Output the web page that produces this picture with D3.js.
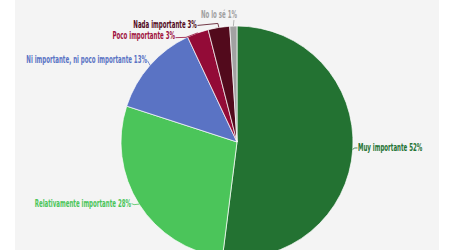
<!DOCTYPE html>
<html>
<head>
<meta charset="utf-8">
<script src="https://cdn.jsdelivr.net/npm/d3@7"></script>
<style>
  html, body { margin: 0; padding: 0; background: #ffffff; }
  svg { display: block; }
  text { font-family: "Liberation Sans Narrow", "DejaVu Sans Condensed", sans-serif; font-weight: bold; }
</style>
</head>
<body>
<script>
// ---- data ----
const categories = ["Muy importante", "Relativamente importante", "Ni importante, ni poco importante", "Poco importante", "Nada importante", "No lo sé"];
const values = [52, 28, 13, 3, 3, 1];
const valueLabels = ["52%", "28%", "13%", "3%", "3%", "1%"];
const colors = ["#237232", "#4bc55a", "#5a73c4", "#930b37", "#520a1c", "#a2a2a2"];
const labelColors = ["#237232", "#4bc55a", "#5a73c4", "#a0123e", "#520a1c", "#a0a0a0"];

// ---- annotation placement, relative to each slice's outer mid point ----
// [label dx, label dy, elbow dx, elbow dy, leader-end dx, leader-end dy]
const labelNudge = [
  [5.2, -2.3, 2, -1.3, 4.7, -1.3],
  [-8, -1, -5, 0.5, -7.5, -0.5],
  [-3, -6, -1, -2, -2.5, -4.5],
  [-22.7, 3, -11.7, 4.5, -22.2, 4.8],
  [-22, -3.2, -1, -4, -21.4, -2],
  [3.6, -11.5, 0.3, -3, 0.6, -6]
];

const W = 450, H = 250;
const cx = 237, cy = 142, R = 116;
const fontSize = 10, squeeze = 0.61;

const svg = d3.select("body").append("svg").attr("width", W).attr("height", H);
svg.append("rect").attr("x", 15).attr("y", 0).attr("width", 424).attr("height", H).attr("fill", "#f4f4f4");

const pie = d3.pie().sort(null).value(d => d)(values);
const arc = d3.arc().innerRadius(0).outerRadius(R);

const g = svg.append("g").attr("transform", `translate(${cx},${cy})`);
g.selectAll("path.slice").data(pie).join("path")
  .attr("class", "slice")
  .attr("d", arc)
  .attr("fill", (d, i) => colors[i])
  .attr("stroke", "#ffffff")
  .attr("stroke-width", 0.7);

pie.forEach((d, i) => {
  const a = (d.startAngle + d.endAngle) / 2;
  const px = Math.sin(a) * R, py = -Math.cos(a) * R;
  const n = labelNudge[i];
  const right = px > 0;
  g.append("path")
    .attr("d", d3.line()([[px, py], [px + n[2], py + n[3]], [px + n[4], py + n[5]]]))
    .attr("fill", "none")
    .attr("stroke", colors[i])
    .attr("stroke-width", 0.8);
  g.append("text")
    .attr("transform", `translate(${px + n[0]},${py + n[1]}) scale(${squeeze},1)`)
    .attr("text-anchor", right ? "start" : "end")
    .attr("dominant-baseline", "central")
    .attr("font-size", fontSize)
    .attr("fill", labelColors[i])
    .text(`${categories[i]} ${valueLabels[i]}`);
});
</script>
</body>
</html>
